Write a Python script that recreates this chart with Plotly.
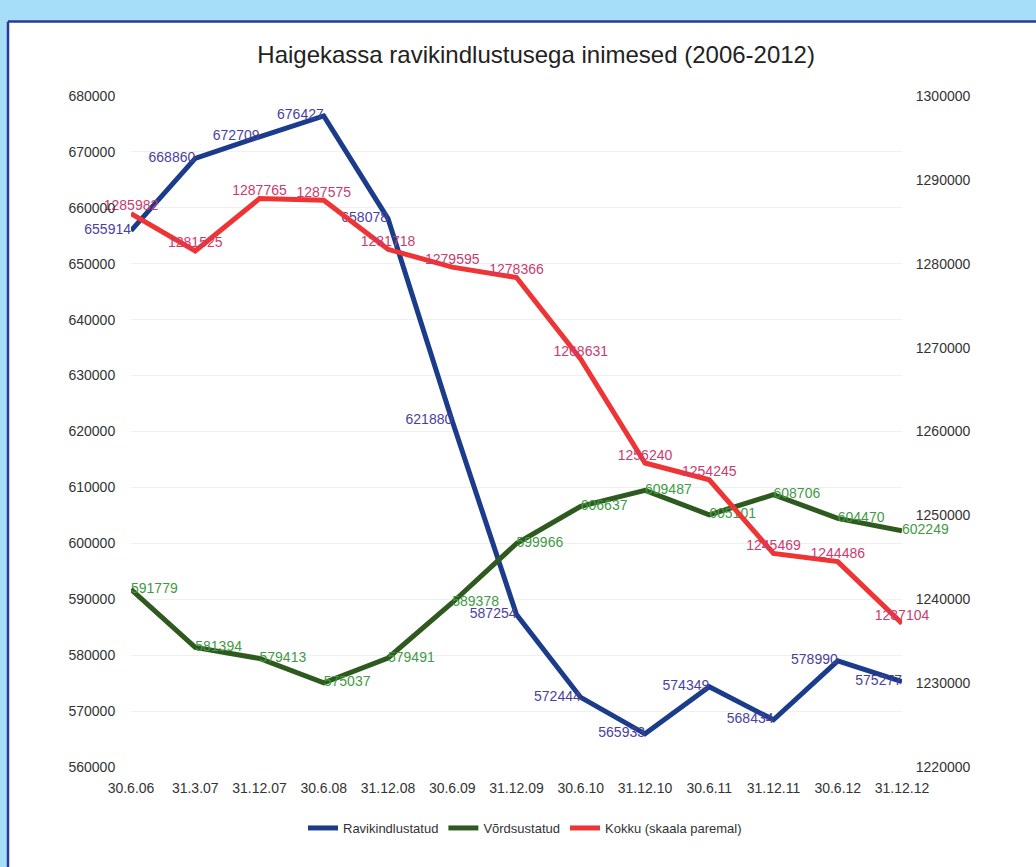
import plotly.graph_objects as go

categories = ["30.6.06", "31.3.07", "31.12.07", "30.6.08", "31.12.08", "30.6.09",
              "31.12.09", "30.6.10", "31.12.10", "30.6.11", "31.12.11", "30.6.12", "31.12.12"]
ravikindlustatud = [655914, 668860, 672709, 676427, 658078, 621880, 587254,
                    572444, 565933, 574349, 568434, 578990, 575277]
vordsustatud = [591779, 581394, 579413, 575037, 579491, 589378, 599966,
                606637, 609487, 605101, 608706, 604470, 602249]
kokku = [1285982, 1281525, 1287765, 1287575, 1281718, 1279595, 1278366,
         1268631, 1256240, 1254245, 1245469, 1244486, 1237104]

left_ticks = list(range(560000, 680001, 10000))
right_ticks = list(range(1220000, 1300001, 10000))

FONT = "Liberation Sans, Arial, sans-serif"

fig = go.Figure()
fig.add_trace(go.Scatter(
    x=categories, y=ravikindlustatud, name="Ravikindlustatud", mode="lines+text",
    line=dict(color="#1b3c8a", width=5),
    text=[str(v) for v in ravikindlustatud], textposition="middle left",
    textfont=dict(color="#4a3f9e", size=14, family=FONT), cliponaxis=False))
fig.add_trace(go.Scatter(
    x=categories, y=vordsustatud, name="Võrdsustatud", mode="lines+text",
    line=dict(color="#2f5a1f", width=5),
    text=[str(v) for v in vordsustatud], textposition="middle right",
    textfont=dict(color="#3f9a45", size=14, family=FONT), cliponaxis=False))
fig.add_trace(go.Scatter(
    x=categories, y=kokku, name="Kokku (skaala paremal)", mode="lines+text",
    yaxis="y2",
    line=dict(color="#ee3434", width=5),
    text=[str(v) for v in kokku], textposition="top center",
    textfont=dict(color="#cc3a6e", size=14, family=FONT), cliponaxis=False))

W, H = 1036, 867
L, R, T, B = 131, 134, 96, 100
pw, ph = W - L - R, H - T - B

def px(x):
    return (x - L) / pw

def py(y):
    return (H - B - y) / ph

shapes = [
    dict(type="rect", xref="paper", yref="paper", x0=px(0), x1=px(W), y0=py(21), y1=py(0),
         fillcolor="#a6def7", line=dict(width=0), layer="below"),
    dict(type="rect", xref="paper", yref="paper", x0=px(0), x1=px(7), y0=py(H), y1=py(0),
         fillcolor="#a6def7", line=dict(width=0), layer="below"),
    dict(type="line", xref="paper", yref="paper", x0=px(8), x1=px(W), y0=py(21.5), y1=py(21.5),
         line=dict(color="#2a3a9a", width=2.5)),
    dict(type="line", xref="paper", yref="paper", x0=px(8), x1=px(8), y0=py(21.5), y1=py(H),
         line=dict(color="#2a3a9a", width=2.5)),
]

fig.update_layout(
    width=W, height=H,
    margin=dict(l=L, r=R, t=T, b=B),
    paper_bgcolor="white", plot_bgcolor="white",
    title=dict(text="Haigekassa ravikindlustusega inimesed (2006-2012)",
               x=px(530), xanchor="center", y=1 - 55 / H, yanchor="middle",
               font=dict(family=FONT, size=24, color="#222222")),
    font=dict(family=FONT, size=14, color="#333333"),
    xaxis=dict(type="category", range=[0, 12], showgrid=False, zeroline=False,
               ticks="outside", ticklen=8, tickcolor="rgba(0,0,0,0)", tickangle=0,
               tickfont=dict(size=14, color="#333333"), showline=False),
    yaxis=dict(range=[560000, 680000], tickvals=left_ticks, ticktext=[str(v) for v in left_ticks],
               showgrid=True, gridcolor="#f0f0f0", gridwidth=1, zeroline=False,
               ticks="outside", ticklen=12, tickcolor="rgba(0,0,0,0)",
               tickfont=dict(size=14, color="#333333")),
    yaxis2=dict(range=[1220000, 1300000], tickvals=right_ticks, ticktext=[str(v) for v in right_ticks],
                overlaying="y", side="right", showgrid=False, zeroline=False,
                ticks="outside", ticklen=10, tickcolor="rgba(0,0,0,0)",
                tickfont=dict(size=14, color="#333333")),
    legend=dict(orientation="h", x=px(525), xanchor="center", y=py(828), yanchor="middle",
                font=dict(size=13, color="#333333"), itemwidth=30, bgcolor="rgba(0,0,0,0)"),
    shapes=shapes,
    showlegend=True,
)

fig.write_html("out.html", config={"displayModeBar": False},
               post_script="document.body.style.margin='0';")
